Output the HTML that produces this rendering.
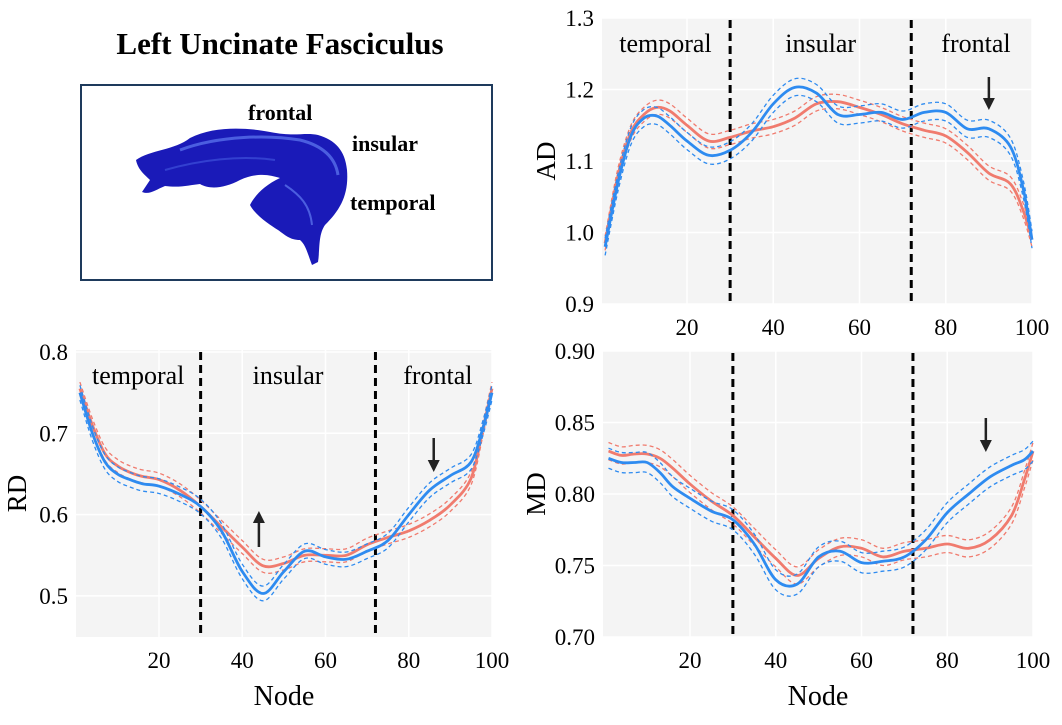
<!DOCTYPE html>
<html><head><meta charset="utf-8">
<style>
body{margin:0;background:#fff;}
svg, svg text{font-family:"Liberation Serif","Times New Roman","DejaVu Serif","Noto Serif CJK SC",serif !important;}
</style></head>
<body>
<svg id="fig" width="1062" height="720" viewBox="0 0 1062 720">
  <text x="280" y="54" text-anchor="middle" font-size="31" font-weight="bold">Left Uncinate Fasciculus</text>
  <rect x="81" y="85" width="411" height="195" fill="#fff" stroke="#1e3a5c" stroke-width="2"/>
  <g>
    <path d="M136,160 C150,150 175,150 190,138 C215,125 250,128 270,132 C295,137 305,132 318,135 C335,140 345,150 347,170 C349,195 340,210 325,225 C318,235 320,250 318,262 L312,265 C308,255 306,245 300,240 C290,240 285,235 278,230 C270,225 255,215 250,205 C255,195 265,185 280,178 C270,175 258,172 240,180 C225,188 210,190 200,184 C190,185 180,188 165,186 C155,190 150,195 142,192 L150,180 C145,175 138,170 136,160 Z" fill="#1a1ab8"/>
    <path d="M180,150 C220,135 270,135 300,140 C320,145 335,155 338,175" fill="none" stroke="#4b5ee0" stroke-width="3"/>
    <path d="M165,170 C200,160 240,155 275,160" fill="none" stroke="#3340d0" stroke-width="2"/>
    <path d="M285,185 C300,195 310,205 312,225" fill="none" stroke="#4b5ee0" stroke-width="2"/>
  </g>
  <text x="248" y="120" font-size="22" font-weight="bold">frontal</text>
  <text x="352" y="151" font-size="22" font-weight="bold">insular</text>
  <text x="350" y="210" font-size="22" font-weight="bold">temporal</text>
</svg>
<script>
const nodes=[1,4,7,10,13,16,20,25,30,35,40,45,50,55,60,65,70,75,80,85,90,95,98,100];
const adRed=[0.985,1.08,1.14,1.165,1.175,1.17,1.15,1.128,1.133,1.142,1.148,1.16,1.18,1.183,1.175,1.165,1.152,1.143,1.135,1.112,1.083,1.068,1.03,0.99];
const adBlue=[0.98,1.07,1.135,1.16,1.163,1.15,1.128,1.108,1.115,1.14,1.18,1.203,1.195,1.165,1.165,1.168,1.158,1.168,1.168,1.145,1.145,1.12,1.06,0.99];
const rdRed=[0.755,0.71,0.675,0.66,0.652,0.647,0.643,0.63,0.61,0.585,0.56,0.537,0.54,0.55,0.55,0.55,0.563,0.572,0.58,0.593,0.612,0.645,0.71,0.755];
const rdBlue=[0.75,0.7,0.665,0.65,0.643,0.638,0.635,0.625,0.61,0.58,0.53,0.503,0.53,0.555,0.548,0.545,0.555,0.568,0.6,0.63,0.648,0.665,0.71,0.75];
const mdRed=[0.83,0.827,0.828,0.828,0.825,0.818,0.807,0.795,0.785,0.77,0.755,0.743,0.755,0.763,0.762,0.756,0.76,0.762,0.765,0.762,0.768,0.785,0.81,0.83];
const mdBlue=[0.825,0.822,0.822,0.822,0.815,0.805,0.797,0.788,0.782,0.765,0.74,0.737,0.756,0.76,0.752,0.753,0.756,0.768,0.787,0.8,0.812,0.82,0.824,0.83];
const xTicks=[20,40,60,80,100];
const adTicks=[0.9,1.0,1.1,1.2,1.3];
const rdTicks=[0.5,0.6,0.7,0.8];
const mdTicks=[0.70,0.75,0.80,0.85,0.90];
const boundaries=[30,72];
const regions=[["temporal",15],["insular",51],["frontal",87]];

const NS='http://www.w3.org/2000/svg';
const svg=document.getElementById('fig');
function mk(tag,attrs,parent){const e=document.createElementNS(NS,tag);for(const k in attrs)e.setAttribute(k,attrs[k]);(parent||svg).appendChild(e);return e;}
function smooth(pts){let d='M'+pts[0][0].toFixed(1)+','+pts[0][1].toFixed(1);
  for(let i=0;i<pts.length-1;i++){const p0=pts[Math.max(0,i-1)],p1=pts[i],p2=pts[i+1],p3=pts[Math.min(pts.length-1,i+2)];
    const c1=[p1[0]+(p2[0]-p0[0])/6,p1[1]+(p2[1]-p0[1])/6],c2=[p2[0]-(p3[0]-p1[0])/6,p2[1]-(p3[1]-p1[1])/6];
    d+='C'+c1[0].toFixed(1)+','+c1[1].toFixed(1)+' '+c2[0].toFixed(1)+','+c2[1].toFixed(1)+' '+p2[0].toFixed(1)+','+p2[1].toFixed(1);}
  return d;}

function panel(o){
  const g=mk('g',{});
  
  
  const x=v=>o.x0+(v-o.n0)*o.xs;
  const y=v=>o.y0+(o.v0-v)*o.ys;
  const bg=mk('rect',{x:o.left,y:o.top,width:o.right-o.left,height:o.bottom-o.top,fill:'#f4f4f4'},g);
  
  
  o.yt.forEach(t=>{const l=mk('line',{x1:o.left,x2:o.right,y1:y(t),y2:y(t),stroke:'#fff','stroke-width':1.5},g);
    
    
    const tx=mk('text',{x:o.left-8,y:y(t)+8,'text-anchor':'end','font-size':23},g);
    
    
    tx.textContent=t.toFixed(o.dec);});
  xTicks.forEach(t=>{const l=mk('line',{x1:x(t),x2:x(t),y1:o.top,y2:o.bottom,stroke:'#fff','stroke-width':1.5},g);
    
    
    const tx=mk('text',{x:x(t),y:o.bottom+31,'text-anchor':'middle','font-size':23},g);
    
    
    tx.textContent=t;});
  boundaries.forEach(b=>{const l=mk('line',{x1:x(b),x2:x(b),y1:o.top+2,y2:o.bottom-3,stroke:'#000','stroke-width':3,'stroke-dasharray':'8,5'},g);
    
    });
  if(o.regions){regions.forEach(r=>{const tx=mk('text',{x:x(r[1]),y:o.top+34,'text-anchor':'middle','font-size':26},g);
    
    
    tx.textContent=r[0];});}
  [[o.red,'#f07b6e',o.ciR,'red'],[o.blue,'#2e8bf0',o.ciB,'blue']].forEach(s=>{
    [-1,1].forEach(sg=>{const p=mk('path',{d:smooth(nodes.map((n,i)=>[x(n),y(s[0][i]+sg*s[2])])),fill:'none',stroke:s[1],'stroke-width':1.3,'stroke-dasharray':'4,3'},g);
      
      });
    const p=mk('path',{d:smooth(nodes.map((n,i)=>[x(n),y(s[0][i])])),fill:'none',stroke:s[1],'stroke-width':2.8},g);
    
    });
  o.arrows.forEach(a=>{const ax=x(a[0]),y1=a[1],y2=a[2],dir=y2>y1?1:-1;
    const ag=mk('g',{},g);
    
    
    mk('line',{x1:ax,x2:ax,y1:y1,y2:y2-dir*10,stroke:'#222','stroke-width':2.5},ag);
    mk('polygon',{points:`${ax-6},${y2-dir*12} ${ax+6},${y2-dir*12} ${ax},${y2}`,fill:'#222'},ag);});
  const yl=mk('text',{x:o.ylx,y:(o.top+o.bottom)/2,'text-anchor':'middle','font-size':27,transform:`rotate(-90 ${o.ylx} ${(o.top+o.bottom)/2})`},g);
  
  
  yl.textContent=o.name.toUpperCase();
  if(o.xlabel){const xl=mk('text',{x:(o.left+o.right)/2,y:705,'text-anchor':'middle','font-size':28},g);
    
    
    xl.textContent='Node';}
}
panel({name:'ad',left:602,right:1032,top:18,bottom:304,x0:687,n0:20,xs:4.3125,y0:18,v0:1.3,ys:715,yt:adTicks,dec:1,red:adRed,blue:adBlue,ciR:0.01,ciB:0.012,regions:true,arrows:[[90,77,110]],ylx:555,xlabel:false});
panel({name:'rd',left:76,right:492,top:350,bottom:637,x0:159,n0:20,xs:4.1625,y0:352,v0:0.8,ys:813,yt:rdTicks,dec:1,red:rdRed,blue:rdBlue,ciR:0.008,ciB:0.009,regions:true,arrows:[[44,547,511],[86,438,472]],ylx:26,xlabel:true});
panel({name:'md',left:603,right:1033,top:351,bottom:637,x0:690,n0:20,xs:4.2875,y0:351,v0:0.9,ys:1430,yt:mdTicks,dec:2,red:mdRed,blue:mdBlue,ciR:0.006,ciB:0.007,regions:false,arrows:[[89,418,452]],ylx:545,xlabel:true});
</script>
</body></html>
